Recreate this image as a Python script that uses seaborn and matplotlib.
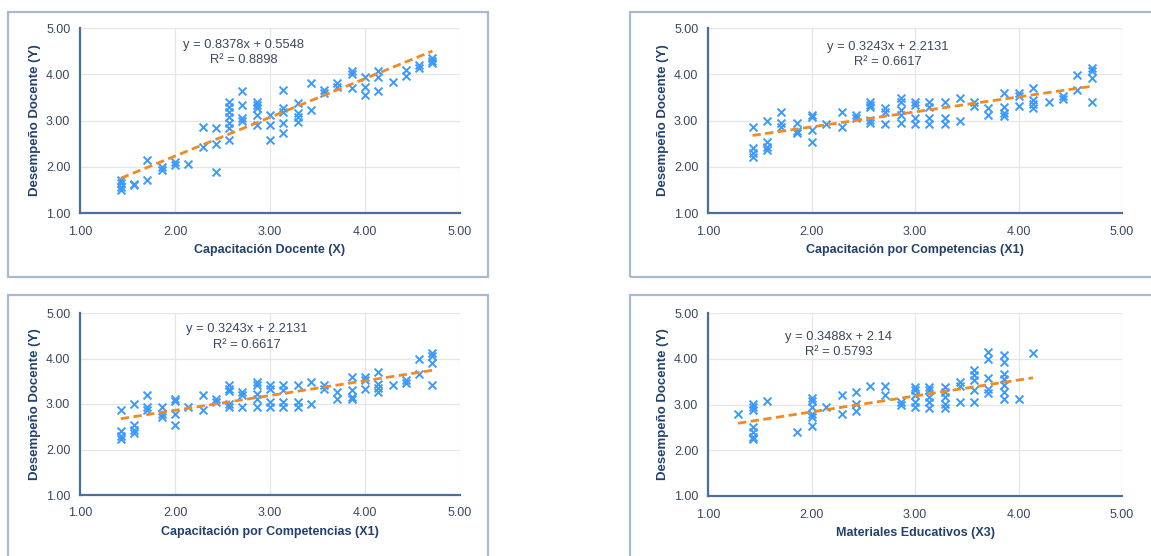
import seaborn as sns
import matplotlib.pyplot as plt
from matplotlib.patches import Rectangle
import numpy as np

# --- datos ---
# Capacitación Docente (X) vs Desempeño Docente (Y)
x_cap = [1.43, 1.43, 1.43, 1.43, 1.57, 1.57, 1.71, 1.71, 1.86, 1.86, 2.00, 2.00, 2.14,
         2.29, 2.29, 2.43, 2.43, 2.43, 2.57, 2.57, 2.57, 2.57, 2.57, 2.57, 2.57,
         2.71, 2.71, 2.71, 2.71, 2.86, 2.86, 2.86, 2.86, 2.86, 3.00, 3.00, 3.00,
         3.14, 3.14, 3.14, 3.14, 3.14, 3.29, 3.29, 3.29, 3.29, 3.43, 3.43, 3.57, 3.57,
         3.71, 3.71, 3.86, 3.86, 3.86, 4.00, 4.00, 4.00, 4.14, 4.14, 4.14, 4.29,
         4.43, 4.43, 4.57, 4.57, 4.71, 4.71, 4.71]
y_cap = [1.71, 1.64, 1.57, 1.50, 1.60, 1.62, 2.14, 1.71, 2.00, 1.94, 2.11, 2.04, 2.07,
         2.87, 2.43, 2.83, 2.50, 1.89, 3.41, 3.30, 3.19, 3.08, 2.94, 2.83, 2.58,
         3.63, 3.34, 3.05, 3.00, 3.41, 3.34, 3.26, 3.12, 2.91, 3.12, 2.91, 2.58,
         3.66, 3.26, 3.19, 2.94, 2.72, 3.37, 3.16, 3.08, 2.97, 3.81, 3.23, 3.66, 3.59,
         3.81, 3.73, 4.06, 4.01, 3.70, 3.95, 3.73, 3.55, 4.06, 3.95, 3.63, 3.84,
         4.10, 3.97, 4.20, 4.13, 4.35, 4.28, 4.24]

# Capacitación por Competencias (X1)
x_comp = [1.43, 1.43, 1.43, 1.43, 1.57, 1.57, 1.57, 1.57, 1.71, 1.71, 1.71,
          1.86, 1.86, 1.86, 2.00, 2.00, 2.00, 2.00, 2.14, 2.29, 2.29, 2.43, 2.43,
          2.57, 2.57, 2.57, 2.57, 2.57, 2.71, 2.71, 2.71, 2.86, 2.86, 2.86, 2.86, 2.86,
          3.00, 3.00, 3.00, 3.00, 3.14, 3.14, 3.14, 3.14, 3.29, 3.29, 3.29, 3.43, 3.43,
          3.57, 3.57, 3.71, 3.71, 3.86, 3.86, 3.86, 3.86, 4.00, 4.00, 4.00,
          4.14, 4.14, 4.14, 4.14, 4.29, 4.43, 4.43, 4.57, 4.57, 4.71, 4.71, 4.71, 4.71]
y_comp = [2.87, 2.40, 2.29, 2.22, 3.00, 2.54, 2.43, 2.36, 3.19, 2.94, 2.87,
          2.94, 2.77, 2.72, 3.12, 3.07, 2.79, 2.54, 2.93, 3.19, 2.87, 3.12, 3.05,
          3.41, 3.34, 3.29, 3.01, 2.94, 3.26, 3.19, 2.93, 3.48, 3.41, 3.23, 3.12, 2.94,
          3.41, 3.34, 3.05, 2.93, 3.41, 3.30, 3.05, 2.93, 3.41, 3.05, 2.93, 3.48, 3.00,
          3.41, 3.32, 3.26, 3.12, 3.59, 3.30, 3.16, 3.10, 3.59, 3.52, 3.32,
          3.70, 3.45, 3.36, 3.26, 3.41, 3.52, 3.46, 3.99, 3.66, 4.13, 4.06, 3.91, 3.41]

# Materiales Educativos (X3)
x_mat = [1.29, 1.43, 1.43, 1.43, 1.43, 1.43, 1.43, 1.43, 1.57, 1.86,
         2.00, 2.00, 2.00, 2.00, 2.00, 2.00, 2.14, 2.29, 2.29, 2.43, 2.43, 2.43,
         2.57, 2.71, 2.71, 2.86, 2.86, 3.00, 3.00, 3.00, 3.00, 3.00,
         3.14, 3.14, 3.14, 3.14, 3.14, 3.29, 3.29, 3.29, 3.29, 3.29,
         3.43, 3.43, 3.43, 3.57, 3.57, 3.57, 3.57, 3.57, 3.71, 3.71, 3.71, 3.71, 3.71,
         3.86, 3.86, 3.86, 3.86, 3.86, 3.86, 3.86, 4.00, 4.14]
y_mat = [2.79, 3.02, 2.95, 2.88, 2.51, 2.40, 2.29, 2.24, 3.08, 2.40,
         3.15, 3.08, 2.95, 2.80, 2.73, 2.53, 2.95, 3.20, 2.80, 3.27, 3.02, 2.86,
         3.40, 3.40, 3.20, 3.06, 3.00, 3.38, 3.31, 3.20, 3.06, 2.95,
         3.38, 3.31, 3.16, 3.06, 2.93, 3.38, 3.27, 3.16, 3.02, 2.92,
         3.49, 3.40, 3.06, 3.76, 3.64, 3.53, 3.31, 3.06, 4.15, 4.00, 3.59, 3.33, 3.25,
         4.08, 3.93, 3.67, 3.56, 3.42, 3.27, 3.13, 3.13, 4.13]

# ecuaciones de tendencia mostradas en el gráfico
fit_cap = (0.8378, 0.5548, "y = 0.8378x + 0.5548", "R² = 0.8898")
fit_comp = (0.3243, 2.2131, "y = 0.3243x + 2.2131", "R² = 0.6617")
fit_mat = (0.3488, 2.14, "y = 0.3488x + 2.14", "R² = 0.5793")

ylabel = "Desempeño Docente (Y)"
ticks = [1.00, 2.00, 3.00, 4.00, 5.00]

sns.set_theme(style="whitegrid")
plt.rcParams['font.family'] = ['Liberation Sans', 'DejaVu Sans']

AX_BLUE = "#4a6e9e"
TXT = "#3a475e"
LBL = "#22406e"
PT = "#3b9aff"
TREND = "#f08a24"

W, H = 1151, 556
fig = plt.figure(figsize=(W / 100, H / 100), dpi=100)


def px_rect(l, t, r, b):
    return [l / W, 1 - b / H, (r - l) / W, (b - t) / H]


# marcos de cada gráfico
for (l, t, r, b) in [(8, 12, 488, 277), (630, 12, 1165, 277),
                     (8, 295, 488, 575), (630, 295, 1165, 575)]:
    fig.patches.append(Rectangle((l / W, 1 - b / H), (r - l) / W, (b - t) / H,
                                 transform=fig.transFigure, fill=False,
                                 edgecolor="#a7bad2", linewidth=1.6))

panels = [
    (px_rect(80, 28, 460, 213), x_cap, y_cap, fit_cap, "Capacitación Docente (X)", 0.43, 0.91),
    (px_rect(708, 28, 1122, 213), x_comp, y_comp, fit_comp, "Capacitación por Competencias (X1)", 0.435, 0.90),
    (px_rect(80, 313, 460, 495), x_comp, y_comp, fit_comp, "Capacitación por Competencias (X1)", 0.44, 0.91),
    (px_rect(708, 313, 1122, 496), x_mat, y_mat, fit_mat, "Materiales Educativos (X3)", 0.315, 0.87),
]

for rect, xs, ys, fit, xlabel, tx, ty in panels:
    ax = fig.add_axes(rect)
    sns.scatterplot(x=xs, y=ys, marker="x", color=PT, s=32, linewidth=1.4, ax=ax, zorder=3)
    xr = np.array([min(xs), max(xs)])
    ax.plot(xr, fit[0] * xr + fit[1], linestyle=(0, (3, 1.6)), color=TREND, linewidth=2, zorder=4)
    ax.text(tx, ty, fit[2], transform=ax.transAxes, ha="center", va="center",
            fontsize=9.3, color=TXT)
    ax.text(tx, ty - 0.085, fit[3], transform=ax.transAxes, ha="center", va="center",
            fontsize=9.3, color=TXT)

    ax.set_xlim(1, 5)
    ax.set_ylim(1, 5)
    ax.set_xticks(ticks)
    ax.set_yticks(ticks)
    ax.set_xticklabels([f"{t:.2f}" for t in ticks])
    ax.set_yticklabels([f"{t:.2f}" for t in ticks])
    ax.set_facecolor("white")
    ax.grid(True, color="#e6e6e6", linewidth=0.9)
    for side in ["top", "right"]:
        ax.spines[side].set_visible(False)
    for side in ["left", "bottom"]:
        ax.spines[side].set_color(AX_BLUE)
        ax.spines[side].set_linewidth(1.6)
    ax.tick_params(axis="both", direction="inout", length=6, width=1.4, color=AX_BLUE,
                   labelsize=9, labelcolor=TXT)
    ax.tick_params(axis="x", pad=6)
    ax.tick_params(axis="y", pad=4)
    ax.set_xlabel(xlabel, fontsize=9, fontweight="bold", color=LBL)
    ax.set_ylabel(ylabel, fontsize=9.5, fontweight="bold", color=LBL)
    w_px = rect[2] * W
    h_px = rect[3] * H
    ax.xaxis.set_label_coords(0.5, -31 / h_px)
    ax.yaxis.set_label_coords(-39 / w_px, 0.5)

fig.savefig("out.png", dpi=100, facecolor="white")
